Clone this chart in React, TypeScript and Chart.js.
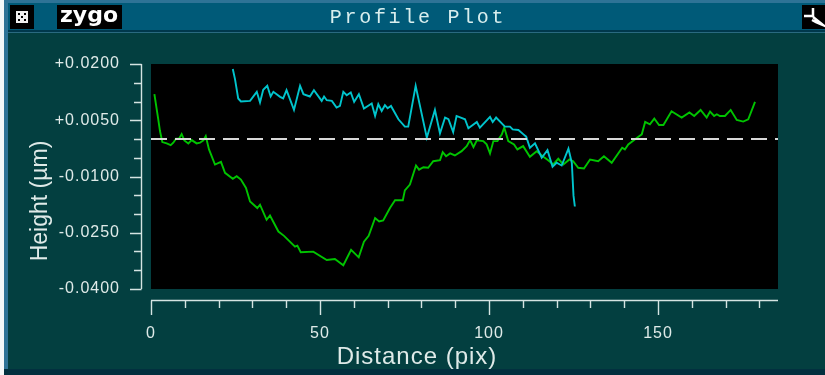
import React, { useEffect, useRef } from "react";
import { Chart, registerables } from "chart.js";

Chart.register(...registerables);

const greenX = [1.0,2.07,2.66,3.35,4.64,5.82,6.6,7.4,8.28,9.07,9.86,11.04,12.03,13.5,14.5,15.5,16.2,17.16,18.93,20.7,21.9,24.2,25.35,26.6,28.1,29.3,31.45,32.25,34.2,35.2,37.7,39.35,42.6,43.3,44.3,48,52,54.4,56.9,59.2,61.45,63,64.4,66.3,67.5,68.7,70.7,72.2,74.5,75.1,76.6,78.4,79.3,80.6,82,83.5,85.5,86.3,87.3,88.5,89.9,91.9,93.4,94.4,95.4,96.4,98.3,99.3,100.3,101.3,102.5,103.8,104.5,105.7,107.4,108.4,110.1,112.1,114.1,116.1,117.5,119,120.5,122,123.8,124.9,126.4,128.1,129.9,132.3,134,136.3,139.4,140.2,141.2,144.2,145.2,146.2,147.6,148.9,150.3,151.6,154,157,159.3,160.7,162.6,164.4,165.4,166.6,167.4,168.3,169.8,171.5,173.3,175.2,176.7,178.7];
const greenY = [0.01196,0.00571,0.00212,-0.00082,-0.00117,-0.00163,-0.00098,0.00009,0.00009,0.00132,-0.00037,-0.00117,-0.00029,-0.00117,-0.00098,-0.00037,0.00078,-0.00278,-0.0068,-0.00608,-0.00902,-0.01063,-0.00994,-0.01082,-0.01304,-0.01664,-0.0184,-0.01752,-0.02154,-0.02039,-0.02468,-0.02583,-0.0287,-0.02843,-0.0302,-0.03004,-0.03226,-0.03199,-0.03368,-0.02958,-0.03156,-0.02736,-0.02583,-0.02108,-0.02199,-0.02173,-0.0184,-0.01635,-0.01635,-0.01369,-0.01216,-0.00707,-0.00818,-0.00752,-0.00768,-0.00592,-0.00565,-0.0035,-0.00458,-0.00385,-0.00439,-0.00324,-0.0019,-0.00029,-0.00216,-0.00037,-0.00056,-0.00144,-0.00385,-0.00056,-0.00056,0.00124,0.00304,-0.00056,-0.00144,-0.00278,-0.0019,-0.00474,-0.00324,-0.00474,-0.00565,-0.0068,-0.00527,-0.0068,-0.00546,-0.00592,-0.00768,-0.00787,-0.00546,-0.00592,-0.00458,-0.00634,-0.00233,-0.00278,-0.00144,0.00062,0.00124,0.00454,0.00392,0.00545,0.00373,0.00373,0.0074,0.00572,0.00706,0.00614,0.00775,0.00572,0.00732,0.00614,0.0066,0.00614,0.00614,0.00775,0.00507,0.00464,0.00526,0.0099];
const cyanX = [24.2,24.85,25.8,26.6,29.3,31.3,32.25,33.2,34.4,35.4,36.2,38.2,39.1,40.1,42.3,44.1,45.1,47,48.2,50.5,51.2,52,53.5,54.9,55.9,56.9,57.9,59.1,60.1,61.5,63,65.3,66.3,67.25,68.25,69.2,70,71,73.2,75.1,76.1,78.3,81.6,84,85.5,87,88,89.4,90.4,92.9,93.9,96.4,97.3,100.3,101.1,102.1,104.7,106.2,107,108.7,110.2,111,112.1,113.6,115.6,117.3,118.8,120,121.5,123.5,124.5,125,125.4];
const cyanY = [0.01866,0.01598,0.01081,0.01,0.01016,0.01258,0.00974,0.01311,0.01418,0.01134,0.01258,0.01124,0.01081,0.01303,0.00775,0.01418,0.01196,0.01134,0.01303,0.01016,0.01134,0.01035,0.01016,0.0084,0.00882,0.01258,0.01169,0.01242,0.0099,0.01196,0.00813,0.00947,0.00614,0.00928,0.00749,0.00901,0.00821,0.00882,0.00526,0.0033,0.0033,0.01418,0.00036,0.00775,0.00151,0.00572,0.00526,0.00186,0.00614,0.00526,0.00285,0.00454,0.00304,0.00588,0.00454,0.00572,0.0033,0.0033,0.00258,0.0024,0.00124,0.00062,-0.00233,-0.00117,-0.005,-0.00296,-0.00742,-0.00634,-0.00707,-0.00259,-0.00634,-0.01511,-0.018];
const zeroX = [0, 185.5];
const zeroY = [0, 0];

const xTitle = "Distance (pix)";
const yTitle = "Height (µm)";
const windowTitle = "Profile Plot";
const brand = "zygo";
const xMinorTicks = [0,10,20,30,40,50,60,70,80,90,100,110,120,130,140,150,160,170,180];
const yMinorTicks = [0.02,0.015,0.01,0.005,0,-0.005,-0.01,-0.015,-0.02,-0.025,-0.03,-0.035,-0.04];

const pairs = (xs: number[], ys: number[]) => xs.map((x, i) => ({ x, y: ys[i] }));

const AXIS_COLOR = "#d5e4e2";
const TEXT_COLOR = "#dfeae8";

const frame = {
  id: "frame",
  beforeDraw(chart: any) {
    const c = chart.ctx as CanvasRenderingContext2D;
    const a = chart.chartArea;
    c.save();
    c.fillStyle = "#033f40";
    c.fillRect(0, 0, 825, 375);
    c.fillStyle = "#2e7396";
    c.fillRect(0, 0, 825, 3);
    c.fillRect(4, 0, 4, 375);
    c.fillStyle = "#f4f8f8";
    c.fillRect(0, 0, 4, 375);
    c.fillStyle = "#005a78";
    c.fillRect(8, 3, 817, 28);
    c.fillStyle = "#00384c";
    c.fillRect(8, 30, 817, 2);
    c.fillStyle = "#2a6a80";
    c.fillRect(8, 32, 817, 1);
    c.fillStyle = "#02303f";
    c.fillRect(4, 369, 821, 6);
    c.fillStyle = "#000";
    c.fillRect(10, 5, 24, 24);
    c.fillRect(57, 5, 65, 24);
    c.fillRect(802, 5, 23, 24);
    c.fillRect(a.left, a.top, a.right - a.left, a.bottom - a.top);

    c.fillStyle = "#f0f0f0";
    c.fillRect(16, 11, 12, 12);
    c.fillStyle = "#000";
    [[18, 13], [24, 13], [21, 16], [18, 19], [24, 19]].forEach(([x, y]) => c.fillRect(x, y, 2, 2));

    c.fillStyle = "#fff";
    c.font = "bold 22px 'DejaVu Sans'";
    c.textAlign = "left";
    c.textBaseline = "alphabetic";
    c.fillText(brand, 60, 22);

    c.strokeStyle = "#fff";
    c.lineWidth = 2.5;
    c.beginPath();
    c.moveTo(804, 16);
    c.lineTo(813, 16);
    c.lineTo(813, 8);
    c.stroke();
    c.beginPath();
    c.moveTo(813, 17);
    c.lineTo(823, 25);
    c.lineTo(816, 22);
    c.lineTo(812, 20);
    c.stroke();

    c.fillStyle = "#d8eeee";
    c.font = "20px 'Liberation Mono'";
    (c as any).letterSpacing = "2.7px";
    c.textAlign = "center";
    c.textBaseline = "middle";
    c.fillText(windowTitle, 418, 18);
    c.restore();

    (chart.ctx as any).letterSpacing = "1px";
  },
  afterDraw(chart: any) {
    const c = chart.ctx as CanvasRenderingContext2D;
    const xs = chart.scales.x;
    const ys = chart.scales.y;
    const ax = 141.5;
    const ay = 300.5;
    c.save();
    c.strokeStyle = AXIS_COLOR;
    c.lineWidth = 1.4;
    c.beginPath();
    c.moveTo(ax, ys.top);
    c.lineTo(ax, ys.bottom);
    yMinorTicks.forEach((v, i) => {
      const p = Math.round(ys.getPixelForValue(v)) + 0.5;
      c.moveTo(ax, p);
      c.lineTo(i % 3 === 0 ? 130 : 134, p);
    });
    c.moveTo(xs.left, ay);
    c.lineTo(xs.right, ay);
    xMinorTicks.forEach((v, i) => {
      const p = Math.round(xs.getPixelForValue(v)) + 0.5;
      c.moveTo(p, ay);
      c.lineTo(p, i % 5 === 0 ? 315 : 308);
    });
    c.stroke();

    c.fillStyle = TEXT_COLOR;
    c.textAlign = "center";
    c.textBaseline = "middle";
    (c as any).letterSpacing = "1px";
    c.font = "24px 'Liberation Sans'";
    c.fillText(xTitle, 417, 357);
    (c as any).letterSpacing = "0px";
    c.translate(41, 201);
    c.rotate(-Math.PI / 2);
    c.font = "23px 'Liberation Sans'";
    c.fillText(yTitle, 0, 0);
    c.restore();
    (chart.ctx as any).letterSpacing = "0px";
  },
};

export default function App() {
  const ref = useRef<HTMLCanvasElement>(null);
  useEffect(() => {
    const chart = new Chart(ref.current as HTMLCanvasElement, {
      type: "line",
      data: {
        datasets: [
          { data: pairs(zeroX, zeroY), borderColor: "#d8d8d8", borderWidth: 2, borderDash: [16, 8], pointRadius: 0 },
          { data: pairs(cyanX, cyanY), borderColor: "#00c4cc", borderWidth: 1.9, pointRadius: 0, tension: 0 },
          { data: pairs(greenX, greenY), borderColor: "#00c400", borderWidth: 1.9, pointRadius: 0, tension: 0 },
        ],
      },
      options: {
        responsive: false,
        animation: false,
        events: [],
        layout: { autoPadding: false, padding: { top: 64, right: 47, bottom: 0, left: 0 } },
        plugins: { legend: { display: false }, tooltip: { enabled: false } },
        scales: {
          x: {
            type: "linear",
            min: 0,
            max: 185.5,
            afterFit: (s: any) => { s.height = 86; },
            grid: { display: false, drawTicks: false },
            border: { display: false },
            ticks: {
              stepSize: 50,
              padding: 35,
              color: TEXT_COLOR,
              maxRotation: 0,
              font: { family: "'Liberation Sans'", size: 16 },
              callback: (v: any) => (Number(v) % 50 === 0 ? String(v) : ""),
            },
          },
          y: {
            min: -0.04,
            max: 0.02,
            afterFit: (s: any) => { s.width = 151; },
            grid: { display: false, drawTicks: false },
            border: { display: false },
            ticks: {
              stepSize: 0.015,
              padding: 31,
              color: TEXT_COLOR,
              font: { family: "'Liberation Sans'", size: 16 },
              callback: (v: any) => (Number(v) >= 0 ? "+" : "") + Number(v).toFixed(4),
            },
          },
        },
      },
      plugins: [frame],
    } as any);
    return () => chart.destroy();
  }, []);
  return <canvas ref={ref} width={825} height={375} style={{ position: "absolute", left: 0, top: 0, display: "block" }} />;
}
